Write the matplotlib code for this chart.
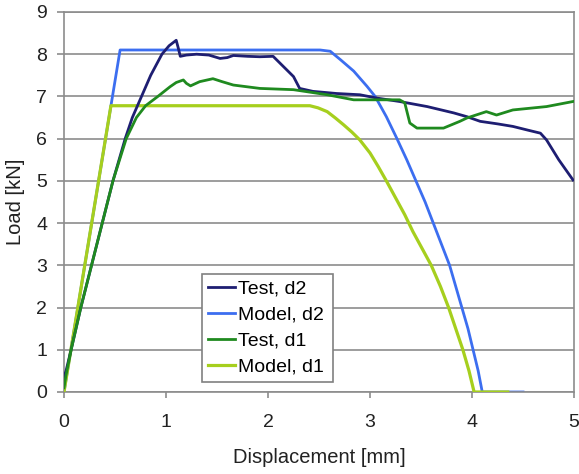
import numpy as np
import matplotlib
matplotlib.use('Agg')
import matplotlib.pyplot as plt

plt.rcParams['font.family'] = ['Liberation Sans', 'DejaVu Sans']

# Test, d2 (measured)
test_d2_x = [0.0, 0.02, 0.07, 0.165, 0.27, 0.375, 0.48, 0.60, 0.67, 0.76, 0.85, 0.96, 1.03, 1.10,
             1.12, 1.14, 1.20, 1.30, 1.42, 1.53, 1.60, 1.66, 1.80, 1.92, 2.05, 2.15,
             2.25, 2.31, 2.44, 2.67, 2.90, 3.07, 3.29, 3.56, 3.82,
             3.95, 4.08, 4.25, 4.40, 4.55, 4.67, 4.73, 4.85, 4.99]
test_d2_y = [0.35, 0.5, 1.0, 2.0, 3.0, 4.0, 5.0, 6.0, 6.5, 7.0, 7.5, 8.0, 8.2, 8.33,
             8.15, 7.95, 7.98, 8.0, 7.98, 7.9, 7.92, 7.97, 7.95, 7.94, 7.95, 7.71,
             7.47, 7.19, 7.12, 7.07, 7.04, 6.96, 6.88, 6.76, 6.61,
             6.52, 6.41, 6.35, 6.29, 6.2, 6.13, 5.97, 5.5, 5.02]

# Model, d2
model_d2_x = [0.0, 0.55, 2.51, 2.61, 2.71, 2.84, 2.97, 3.05, 3.16, 3.26, 3.36, 3.45,
              3.54, 3.62, 3.70, 3.78, 3.84, 3.90, 3.96, 4.01, 4.06, 4.10, 4.50]
model_d2_y = [0.0, 8.10, 8.10, 8.07, 7.87, 7.60, 7.24, 7.00, 6.52, 6.02, 5.50, 5.00,
              4.50, 4.00, 3.50, 3.00, 2.50, 2.00, 1.50, 1.00, 0.50, 0.00, 0.00]

# Test, d1 (measured)
test_d1_x = [0.0, 0.02, 0.07, 0.165, 0.27, 0.375, 0.48, 0.61, 0.71, 0.80, 0.92, 1.04, 1.10, 1.17,
             1.20, 1.24, 1.33, 1.46, 1.55, 1.66, 1.92, 2.25, 2.58, 2.84, 3.07, 3.29,
             3.34, 3.39, 3.46, 3.72, 3.88, 3.95, 4.14, 4.24, 4.40, 4.73, 4.99]
test_d1_y = [0.1, 0.4, 1.0, 2.0, 3.0, 4.0, 5.0, 6.0, 6.5, 6.78, 7.0, 7.23, 7.33, 7.39,
             7.31, 7.25, 7.35, 7.42, 7.35, 7.27, 7.19, 7.16, 7.04, 6.92, 6.92, 6.92,
             6.85, 6.37, 6.25, 6.25, 6.41, 6.49, 6.64, 6.56, 6.68, 6.76, 6.88]

# Model, d1
model_d1_x = [0.0, 0.46, 2.41, 2.49, 2.58, 2.66, 2.74, 2.82, 2.90, 3.00, 3.08, 3.16, 3.25,
              3.34, 3.42, 3.51, 3.60, 3.69, 3.77, 3.84, 3.91, 3.97, 4.02, 4.35]
model_d1_y = [0.0, 6.78, 6.78, 6.73, 6.64, 6.49, 6.33, 6.16, 5.97, 5.66, 5.34, 5.00, 4.60,
              4.20, 3.80, 3.40, 3.00, 2.50, 2.00, 1.50, 1.00, 0.50, 0.00, 0.00]

fig = plt.figure(figsize=(5.79, 4.74), dpi=100)
ax = fig.add_axes([0.1105, 0.173, 0.881, 0.8017])

ax.plot(test_d2_x, test_d2_y, color='#1e1e72', lw=2, label='Test, d2', zorder=4)
ax.plot(model_d2_x, model_d2_y, color='#3c6ef0', lw=2, label='Model, d2', zorder=2)
ax.plot(test_d1_x, test_d1_y, color='#1f8a1f', lw=2, label='Test, d1', zorder=5)
ax.plot(model_d1_x, model_d1_y, color='#a6cf1e', lw=2.3, label='Model, d1', zorder=3)

ax.set_xlim(0, 5)
ax.set_ylim(0, 9)
ax.set_xticks(range(6))
ax.set_yticks(range(10))
ax.yaxis.grid(True, color='#8c8c8c', lw=1.2)
ax.set_axisbelow(True)
for s in ax.spines.values():
    s.set_color('#8c8c8c')
    s.set_linewidth(1.2)
ax.tick_params(axis='both', colors='#8c8c8c', labelcolor='#222222', labelsize=14, width=1.2)
ax.tick_params(axis='x', length=4, pad=12)
ax.tick_params(axis='y', length=5, pad=7)

ax.set_xlabel('Displacement [mm]', fontsize=14.5, color='#222222', labelpad=12)
ax.set_ylabel('Load [kN]', fontsize=14.5, color='#222222', labelpad=8)

leg = ax.legend(loc='lower left', bbox_to_anchor=(0.270, 0.026, 0.2575, 0.289), mode='expand',
                fontsize=14, frameon=True, fancybox=False, handlelength=1.4,
                handletextpad=0.15, borderpad=0.32, labelspacing=0.43, borderaxespad=0)
leg.get_frame().set_edgecolor('#808080')
leg.get_frame().set_linewidth(1.2)
leg.get_frame().set_alpha(1)

fig.savefig('out.png', dpi=100)
